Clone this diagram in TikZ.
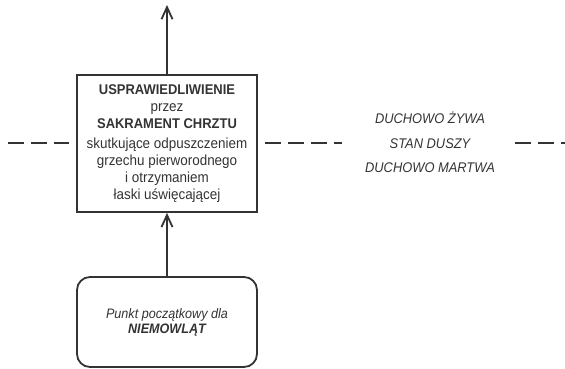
\documentclass[tikz,border=0pt]{standalone}
\usepackage{fontspec}
\setmainfont[FakeStretch=0.92]{Liberation Sans}
\usetikzlibrary{arrows.meta}
\definecolor{ink}{HTML}{333333}
\newcommand{\titlefont}{\fontsize{14.1pt}{16.5pt}\selectfont\bfseries}
\tikzset{
  boxline/.style={draw=ink, line width=1.8pt},
  mainbox/.style={boxline, rectangle, minimum width=180pt, minimum height=137pt, inner sep=0pt, align=center, text=ink, font=\fontsize{14.6pt}{16.7pt}\selectfont},
  startbox/.style={boxline, rectangle, rounded corners=13pt, minimum width=180pt, minimum height=90pt, inner sep=0pt, align=center, text=ink, font=\fontsize{13.7pt}{15pt}\selectfont\itshape},
  flow/.style={draw=ink, line width=1.8pt, -{Straight Barb[length=12pt,width=11pt]}},
  divider/.style={draw=ink, line width=1.8pt, dash pattern=on 16pt off 7pt},
  statelabel/.style={text=ink, font=\fontsize{14pt}{24.5pt}\selectfont\itshape, align=center, inner sep=0pt}
}
\begin{document}
\begin{tikzpicture}[x=1pt, y=-1pt]
\useasboundingbox (0,0) rectangle (565,369);
\node[mainbox] (main) at (167,143.5) {{\titlefont USPRAWIEDLIWIENIE}\\przez\\{\titlefont SAKRAMENT CHRZTU}\\[4pt]skutkujące odpuszczeniem\\grzechu pierworodnego\\i otrzymaniem\\łaski uświęcającej};
\node[startbox] (start) at (167,322) {Punkt początkowy dla\\\textbf{NIEMOWLĄT}};
\node[statelabel] (state) at (430,142.5) {DUCHOWO ŻYWA\\STAN DUSZY\\DUCHOWO MARTWA};
\coordinate (top) at (167,5);
\coordinate (l1) at (8,143);
\coordinate (l2) at (69,143);
\coordinate (r1) at (265,143);
\coordinate (r2) at (342,143);
\coordinate (s1) at (515,143);
\coordinate (s2) at (565,143);
\draw[flow] (start.north) -- (main.south);
\draw[flow] (main.north) -- (top);
\draw[divider] (l1) -- (l2);
\draw[divider] (r1) -- (r2);
\draw[divider] (s1) -- (s2);
\end{tikzpicture}
\end{document}
